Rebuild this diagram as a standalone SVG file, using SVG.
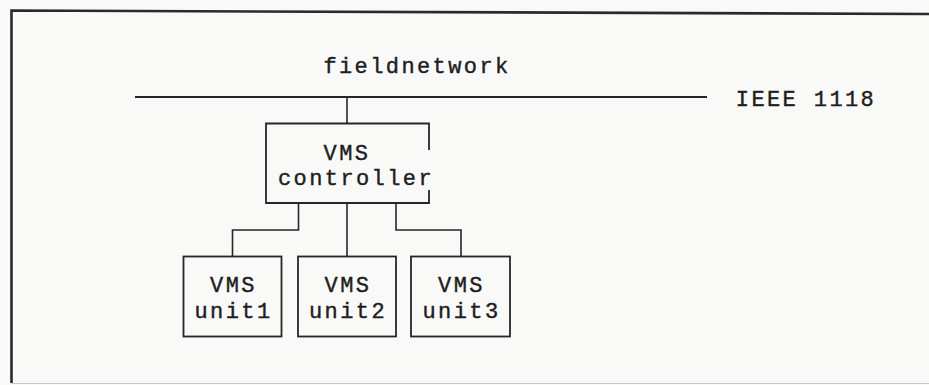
<svg xmlns="http://www.w3.org/2000/svg" width="929" height="385" viewBox="0 0 929 385">
  <style>
    .ln { stroke: #262626; stroke-width: 1.6; fill: none; }
    .box { stroke: #262626; stroke-width: 1.8; fill: none; }
    .frame { stroke: #2a2a2a; stroke-width: 2.6; fill: none; }
    .lbl { font-family: "Liberation Mono", "Courier New", monospace; font-size: 22px; letter-spacing: 2.4px; fill: #1e1e1e; stroke: #1e1e1e; stroke-width: 0.4; text-anchor: middle; }
  </style>
  <rect x="0" y="0" width="929" height="385" fill="#f9f9f7"/>

  <!-- page frame -->
  <g id="frame">
    <path class="frame" d="M11.5,383 L11.5,10.5 L929,14"/>
    <line x1="11.5" y1="383.5" x2="929" y2="383.5" stroke="#c8c8c8" stroke-width="1.2"/>
  </g>

  <!-- field bus -->
  <g id="fieldbus">
    <line x1="135" y1="97" x2="707" y2="97" stroke="#262626" stroke-width="2"/>
    <text class="lbl" x="417" y="73">fieldnetwork</text>
    <text class="lbl" x="806" y="106">IEEE 1118</text>
  </g>

  <!-- connectors -->
  <g id="connectors">
    <line class="ln" x1="347" y1="97" x2="347" y2="123.5"/>
    <polyline class="ln" points="298.5,203 298.5,230 232.5,230 232.5,256.5"/>
    <line class="ln" x1="347" y1="203" x2="347" y2="256.5"/>
    <polyline class="ln" points="396,203 396,230 461,230 461,256.5"/>
  </g>

  <!-- controller: right edge broken where the label runs past it -->
  <g id="controller">
    <path class="box" d="M429,150 L429,123.5 L266,123.5 L266,203 L429,203 L429,190"/>
    <text class="lbl" x="347" y="160">VMS</text>
    <text class="lbl" x="356" y="185">controller</text>
  </g>

  <g id="unit1">
    <rect class="box" x="183.5" y="256.5" width="98" height="80"/>
    <text class="lbl" x="233.5" y="291.5">VMS</text>
    <text class="lbl" x="233.5" y="318">unit1</text>
  </g>

  <g id="unit2">
    <rect class="box" x="298" y="256.5" width="98" height="80"/>
    <text class="lbl" x="348" y="291.5">VMS</text>
    <text class="lbl" x="348" y="318">unit2</text>
  </g>

  <g id="unit3">
    <rect class="box" x="411" y="256.5" width="99" height="80"/>
    <text class="lbl" x="461.5" y="291.5">VMS</text>
    <text class="lbl" x="461.5" y="318">unit3</text>
  </g>
</svg>
